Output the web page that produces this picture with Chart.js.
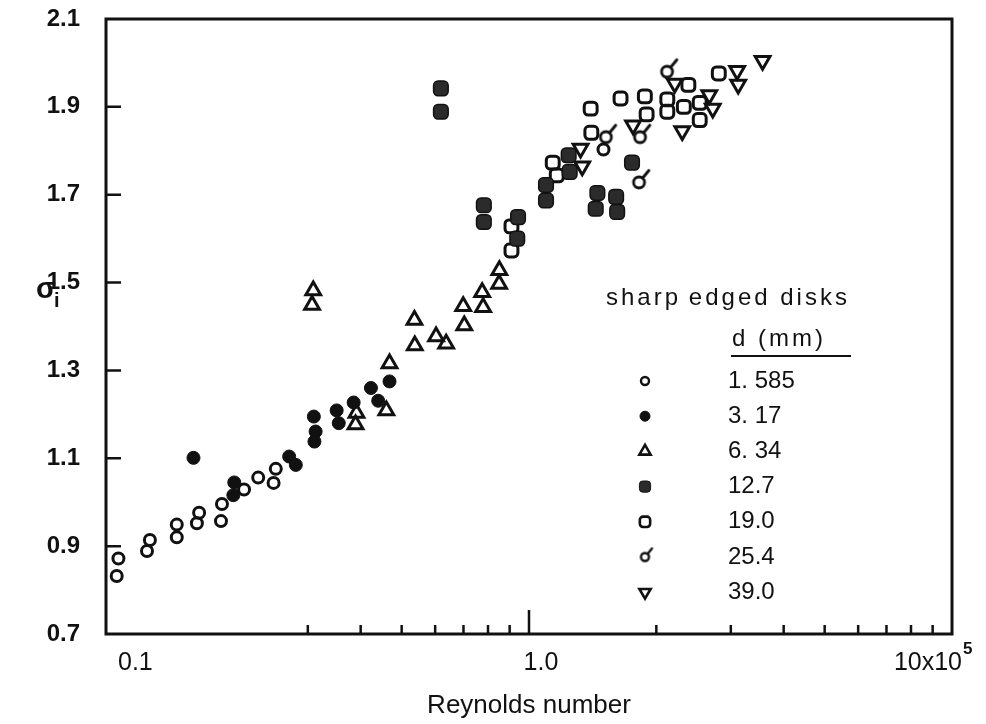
<!DOCTYPE html>
<html>
<head>
<meta charset="utf-8">
<script src="https://cdn.jsdelivr.net/npm/chart.js@4.4.1/dist/chart.umd.min.js"></script>
<style>
  html, body { margin: 0; padding: 0; background: #fff; }
  #wrap { width: 986px; height: 724px; position: relative; }
</style>
</head>
<body>
<div id="wrap"><canvas id="c"></canvas></div>
<script>
// sigma_i vs Reynolds number (x10^5)
const d1585X = [0.106, 0.107, 0.125, 0.127, 0.147, 0.147, 0.164, 0.166, 0.187, 0.188, 0.212, 0.229, 0.249, 0.252, 1.50];
const d1585Y = [0.832, 0.872, 0.889, 0.914, 0.920, 0.949, 0.952, 0.976, 0.957, 0.996, 1.029, 1.056, 1.044, 1.076, 1.803];

const d317X = [0.161, 0.201, 0.200, 0.271, 0.281, 0.310, 0.313, 0.311, 0.351, 0.355, 0.385, 0.423, 0.440, 0.468];
const d317Y = [1.101, 1.045, 1.016, 1.104, 1.085, 1.195, 1.161, 1.138, 1.209, 1.180, 1.227, 1.260, 1.231, 1.275];

const d634X = [0.309, 0.307, 0.391, 0.389, 0.460, 0.468, 0.536, 0.537, 0.603, 0.637, 0.699, 0.703, 0.775, 0.779, 0.851, 0.850];
const d634Y = [1.482, 1.449, 1.203, 1.177, 1.209, 1.316, 1.415, 1.357, 1.377, 1.361, 1.446, 1.402, 1.478, 1.444, 1.528, 1.497];

const d127X = [0.619, 0.619, 0.782, 0.782, 0.942, 0.938, 1.097, 1.097, 1.241, 1.248, 1.752, 1.451, 1.438, 1.607, 1.616];
const d127Y = [1.942, 1.889, 1.676, 1.638, 1.649, 1.600, 1.722, 1.687, 1.790, 1.752, 1.773, 1.704, 1.668, 1.695, 1.661];

const d190X = [0.909, 0.909, 1.138, 1.163, 1.399, 1.404, 1.646, 1.879, 1.897, 2.123, 2.123, 2.323, 2.381, 2.533, 2.533, 2.810];
const d190Y = [1.628, 1.573, 1.773, 1.744, 1.896, 1.841, 1.919, 1.924, 1.883, 1.917, 1.889, 1.900, 1.950, 1.909, 1.870, 1.976];

const d254X = [1.52, 1.83, 1.82, 2.12];
const d254Y = [1.831, 1.831, 1.728, 1.980];

const d390X = [1.324, 1.336, 1.762, 2.211, 2.303, 2.668, 2.719, 3.105, 3.123, 3.566];
const d390Y = [1.805, 1.765, 1.858, 1.953, 1.845, 1.927, 1.896, 1.982, 1.951, 2.005];

// axes
const xMajor = [0.1, 1, 10];
const xMajorLabels = ['0.1', '1.0', '10x10'];
const xExpLabel = '5';
const xMinor = [0.3, 0.4, 0.5, 0.6, 0.7, 0.8, 0.9, 2, 3, 4, 5, 6, 7, 8, 9];
const yMin = 0.7, yMax = 2.1, yStep = 0.2;

// legend text
const legendTitle = 'sharp\u2009edged disks';
const legendHead = 'd (mm)';
const legendLabels = ['1. 585', '3. 17', '6. 34', '12.7', '19.0', '25.4', '39.0'];

const ink = '#111';
const FONT = "'Liberation Sans', Arial, sans-serif";

// circle with a little tail (the 25.4 mm symbol)
function tailMarker(r, lw, tail) {
  const c = document.createElement('canvas');
  const s = Math.ceil(2 * (r + tail + lw)) + 2;
  c.width = c.height = s;
  const g = c.getContext('2d');
  g.strokeStyle = ink; g.lineWidth = lw; g.lineCap = 'round';
  g.beginPath(); g.arc(s / 2, s / 2, r, 0, Math.PI * 2); g.stroke();
  const a = -Math.PI / 4 - 0.1;
  g.beginPath();
  g.moveTo(s / 2 + Math.cos(a) * r, s / 2 + Math.sin(a) * r);
  g.lineTo(s / 2 + Math.cos(a) * (r + tail), s / 2 + Math.sin(a) * (r + tail));
  g.stroke();
  return c;
}
const tailBig = tailMarker(5.5, 2.8, 10);
const tailSmall = tailMarker(4, 2.4, 7);

const pts = (xs, ys) => xs.map((x, i) => ({ x: x, y: ys[i] }));
const clear = 'rgba(0,0,0,0)';

const datasets = [
  { label: legendLabels[0], data: pts(d1585X, d1585Y), pointStyle: 'circle', pointRadius: 5.5, borderWidth: 3, borderColor: ink, backgroundColor: clear },
  { label: legendLabels[1], data: pts(d317X, d317Y), pointStyle: 'circle', pointRadius: 6.5, borderWidth: 1, borderColor: ink, backgroundColor: ink },
  { label: legendLabels[2], data: pts(d634X, d634Y), pointStyle: 'triangle', pointRadius: 8.5, borderWidth: 3, borderColor: ink, backgroundColor: clear },
  { label: legendLabels[3], data: pts(d127X, d127Y), pointStyle: 'rectRounded', pointRadius: 8.5, borderWidth: 1.5, borderColor: ink, backgroundColor: '#2b2b2b' },
  { label: legendLabels[4], data: pts(d190X, d190Y), pointStyle: 'rectRounded', pointRadius: 7.5, borderWidth: 3, borderColor: ink, backgroundColor: clear },
  { label: legendLabels[5], data: pts(d254X, d254Y), pointStyle: tailBig, pointRadius: 6, borderWidth: 0, borderColor: ink, backgroundColor: clear },
  { label: legendLabels[6], data: pts(d390X, d390Y), pointStyle: 'triangle', pointRotation: 180, pointRadius: 8.5, borderWidth: 3, borderColor: ink, backgroundColor: clear }
];

// small legend symbols, same order as datasets
const legendMarks = [
  { pointStyle: 'circle', radius: 4, borderWidth: 2.4, fill: clear },
  { pointStyle: 'circle', radius: 5, borderWidth: 1, fill: ink },
  { pointStyle: 'triangle', radius: 6.5, borderWidth: 2.6, fill: clear },
  { pointStyle: 'rectRounded', radius: 6.5, borderWidth: 1, fill: '#2b2b2b' },
  { pointStyle: 'rectRounded', radius: 6, borderWidth: 2.6, fill: clear },
  { pointStyle: tailSmall, radius: 5, borderWidth: 0, fill: clear },
  { pointStyle: 'triangle', rotation: 180, radius: 6.5, borderWidth: 2.6, fill: clear }
];

const framePlugin = {
  id: 'frame',
  beforeDatasetsDraw(chart) {
    const { ctx, chartArea: a, scales: { x, y } } = chart;
    ctx.save();
    ctx.strokeStyle = ink;
    ctx.lineWidth = 3;
    ctx.strokeRect(a.left, a.top, a.right - a.left, a.bottom - a.top);
    // inward ticks
    ctx.lineWidth = 2.5;
    ctx.beginPath();
    y.ticks.forEach(t => {
      if (t.value <= yMin + 1e-6 || t.value >= yMax - 1e-6) return;
      const py = y.getPixelForValue(t.value);
      ctx.moveTo(a.left, py); ctx.lineTo(a.left + 15, py);
    });
    xMinor.forEach(v => {
      const px = x.getPixelForValue(v);
      ctx.moveTo(px, a.bottom); ctx.lineTo(px, a.bottom - 9);
    });
    const p1 = x.getPixelForValue(1);
    ctx.moveTo(p1, a.bottom); ctx.lineTo(p1, a.bottom - 24);
    ctx.stroke();
    ctx.restore();
  },
  afterDraw(chart) {
    const { ctx, chartArea: a, scales: { x } } = chart;
    ctx.save();
    ctx.fillStyle = ink;

    // x tick labels
    const ty = a.bottom + 29;
    ctx.font = '25px ' + FONT;
    ctx.textBaseline = 'middle';
    let px = x.getPixelForValue(xMajor[0]);
    ctx.textAlign = 'left';
    ctx.fillText(xMajorLabels[0], px + 12, ty);
    px = x.getPixelForValue(xMajor[1]);
    ctx.textAlign = 'center';
    ctx.fillText(xMajorLabels[1], px + 12, ty);
    px = x.getPixelForValue(xMajor[2]);
    ctx.textAlign = 'right';
    ctx.fillText(xMajorLabels[2], px + 10, ty);
    ctx.textAlign = 'left';
    ctx.font = 'bold 17px ' + FONT;
    ctx.fillText(xExpLabel, px + 11, ty - 14);

    // y axis symbol sigma_i
    ctx.textAlign = 'left';
    ctx.textBaseline = 'alphabetic';
    ctx.font = 'bold 29px ' + FONT;
    ctx.fillText('\u03c3', 36, 298);
    ctx.font = 'bold 20px ' + FONT;
    ctx.fillText('i', 54, 307);

    // legend
    ctx.textBaseline = 'middle';
    ctx.font = '24px ' + FONT;
    ctx.letterSpacing = '3px';
    ctx.fillText(legendTitle, 606, 298);
    ctx.fillText(legendHead, 732, 339);
    ctx.letterSpacing = '0px';
    ctx.lineWidth = 2;
    ctx.strokeStyle = ink;
    ctx.beginPath(); ctx.moveTo(731, 356); ctx.lineTo(851, 356); ctx.stroke();

    const lx = 645, tx = 728, y0 = 381, dy = 35.2;
    legendLabels.forEach((lab, i) => {
      const yy = y0 + i * dy;
      const m = legendMarks[i];
      ctx.fillStyle = m.fill;
      ctx.strokeStyle = ink;
      ctx.lineWidth = m.borderWidth;
      Chart.helpers.drawPoint(ctx, { pointStyle: m.pointStyle, rotation: m.rotation || 0, radius: m.radius, borderWidth: m.borderWidth }, lx, yy);
      ctx.fillStyle = ink;
      ctx.fillText(lab, tx, yy);
    });
    ctx.restore();
  }
};

new Chart(document.getElementById('c'), {
  type: 'scatter',
  data: { datasets: datasets },
  options: {
    responsive: true,
    maintainAspectRatio: false,
    animation: false,
    layout: { padding: { top: 19, right: 34, left: 0, bottom: 0 } },
    plugins: { legend: { display: false }, tooltip: { enabled: false } },
    scales: {
      x: {
        type: 'logarithmic',
        min: 0.1, max: 10,
        grid: { display: false },
        border: { display: false },
        ticks: { display: false },
        title: { display: true, text: 'Reynolds number', color: ink, font: { family: FONT, size: 26 }, padding: { top: 0, bottom: 3 } },
        afterFit(s) { s.height = 90; s.paddingLeft = 0; s.paddingRight = 0; }
      },
      y: {
        min: yMin, max: yMax,
        grid: { display: false },
        border: { display: false },
        ticks: { stepSize: yStep, padding: 18, color: ink, font: { family: FONT, size: 24, weight: 'bold' }, callback: v => Number(v).toFixed(1) },
        afterFit(s) { s.width = 106; s.paddingTop = 0; s.paddingBottom = 0; }
      }
    }
  },
  plugins: [framePlugin]
});
</script>
</body>
</html>
